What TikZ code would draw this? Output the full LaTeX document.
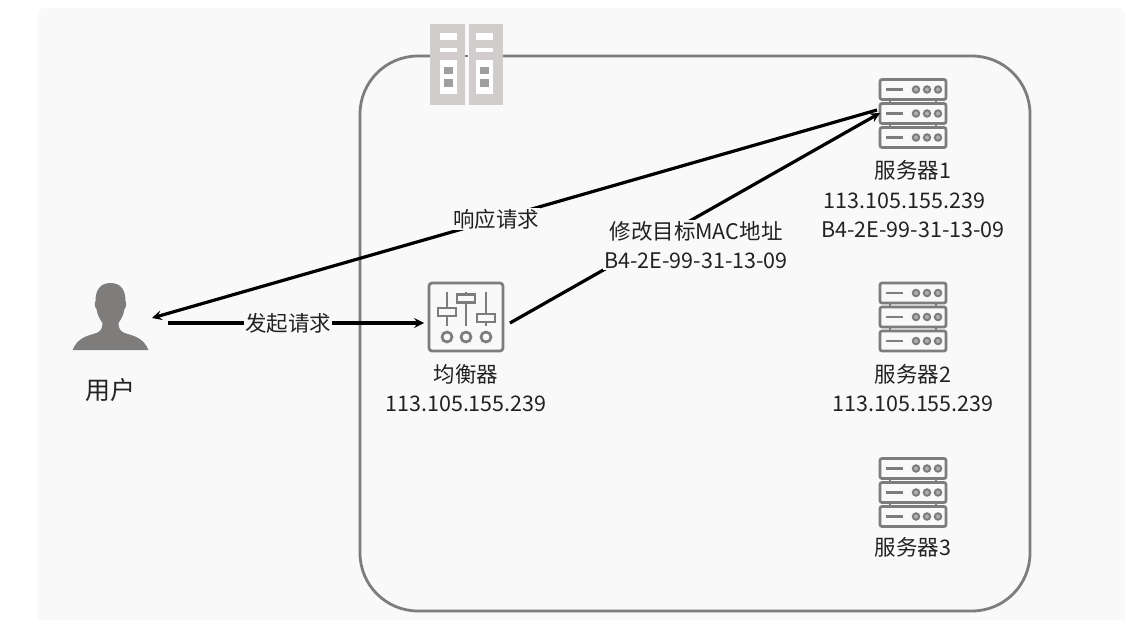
\documentclass[tikz,border=0pt]{standalone}
\usepackage{fontspec}
\setmainfont{Noto Sans CJK SC}
\usetikzlibrary{positioning}
\definecolor{panelbg}{HTML}{F9F9FA}
\definecolor{icongray}{HTML}{7F7C7C}
\definecolor{racklight}{HTML}{D1CDCD}
\definecolor{textgray}{HTML}{222222}
\tikzset{
    iconline/.style={draw=icongray, line width=2.7pt},
    iconbox/.style={minimum width=70pt, minimum height=70pt, inner sep=0pt},
    caption/.style={text=textgray, font=\fontsize{21.5}{29.5}\selectfont, align=center},
    flow/.style={draw=black, line width=3.2pt, >=stealth},
    flowlabel/.style={caption, fill=panelbg, inner sep=1pt},
    serverrow/.pic={
        \draw[iconline, fill=panelbg, rounded corners=2pt] (-33,-10) rectangle (33,10);
        \draw[iconline] (-27,0) -- (-10,0);
        \foreach \dotx in {3,14,25} {
            \draw[icongray, fill=icongray!60, line width=2pt] (\dotx,0) circle (3.2);
        }
    },
    servericon/.pic={
        \draw[iconline] (-23,-14) -- (-23,-10) (23,-14) -- (23,-10);
        \draw[iconline] (-23,10) -- (-23,14) (23,10) -- (23,14);
        \pic at (0,-24) {serverrow};
        \pic at (0,0) {serverrow};
        \pic at (0,24) {serverrow};
    },
    balancericon/.pic={
        \draw[iconline, rounded corners=3pt] (-37,-34) rectangle (37,34);
        \foreach \sx/\hy in {-19/-5,0/-18.5,20/1} {
            \draw[iconline] (\sx,-25) -- (\sx,9);
            \draw[iconline, fill=panelbg] (\sx-9,\hy-4) rectangle (\sx+9,\hy+4);
            \draw[iconline] (\sx,20) circle (5);
        }
    },
    usericon/.pic={
        \fill[icongray] (0,-34) .. controls (-11,-34) and (-15,-26) .. (-15,-16)
            .. controls (-16,-14) and (-16,-10) .. (-14,-8)
            .. controls (-13,-1) and (-10,3) .. (-8,6)
            .. controls (-8,12) and (-10,14) .. (-14,16)
            .. controls (-24,19) and (-33,21) .. (-38,33)
            -- (38,33)
            .. controls (33,21) and (24,19) .. (14,16)
            .. controls (10,14) and (8,12) .. (8,6)
            .. controls (10,3) and (13,-1) .. (14,-8)
            .. controls (16,-10) and (16,-14) .. (15,-16)
            .. controls (15,-26) and (11,-34) .. (0,-34) -- cycle;
    },
    rackicon/.pic={
        \fill[racklight] (-36.5,-40.5) rectangle (36.5,40.5);
        \fill[panelbg] (-2,-40.5) rectangle (2,40.5);
        \fill[icongray] (-1.5,-9.5) rectangle (1.5,-7.5);
        \foreach \cx in {-18,18} {
            \fill[white] (\cx-8.5,-31.5) rectangle (\cx+8.5,-24.5);
            \fill[white] (\cx-8.5,-16.5) rectangle (\cx+8.5,-12.5);
            \fill[white] (\cx-8.5,-4.5) rectangle (\cx+8.5,30);
            \fill[gray!75] (\cx-4.5,2.5) rectangle (\cx+4.5,9.5);
            \fill[gray!75] (\cx-4.5,14.5) rectangle (\cx+4.5,22.5);
        }
    }
}
\begin{document}
\begin{tikzpicture}[x=1pt, y=-1pt]
    \useasboundingbox (0,0) rectangle (1134,620);
    \fill[white] (0,0) rectangle (1134,620);
    \fill[panelbg, rounded corners=8pt] (38,8) rectangle (1125,640);
    \fill[white] (0,620) rectangle (1134,650);

    % cluster outline
    \node[draw=icongray, line width=2.8pt, rounded corners=58pt, minimum width=670pt, minimum height=555pt, inner sep=0pt] (cluster) at (695,333.5) {};
    \node[iconbox, minimum width=73pt, minimum height=81pt] (rack) at (466.5,64.5) {};
    \pic at (rack) {rackicon};

    % user
    \node[iconbox, minimum width=76pt] (user) at (110.5,317) {};
    \pic at (user) {usericon};
    \node[caption, font=\fontsize{25}{30}\selectfont] (userlabel) at (110.5,390) {用户};

    % balancer
    \node[iconbox, minimum width=76pt] (balancer) at (466,317) {};
    \pic at (balancer) {balancericon};
    \node[caption] (balancerlabel) at (466,388) {均衡器\\113.105.155.239};

    % servers
    \node[iconbox] (server1) at (913,113.5) {};
    \pic at (server1) {servericon};
    \node[caption] (server1label) at (913,199.5) {服务器1\\113.105.155.239\hspace{17pt}\mbox{}\\B4-2E-99-31-13-09};
    \node[iconbox] (server2) at (913,317) {};
    \pic at (server2) {servericon};
    \node[caption] (server2label) at (913,388) {服务器2\\113.105.155.239};
    \node[iconbox] (server3) at (913,492.5) {};
    \pic at (server3) {servericon};
    \node[caption] (server3label) at (913,547) {服务器3};

    % free ends of the connectors
    \coordinate (reqstart) at (168,323);
    \coordinate (reqend) at (424,323);
    \coordinate (respstart) at (877,110);
    \coordinate (respend) at (152,318);
    \coordinate (macstart) at (510,323);
    \coordinate (macend) at (880,113);

    \draw[flow, ->] (reqstart) -- node[flowlabel, pos=0.47] (reqlabel) {发起请求} (reqend);
    \draw[flow, ->] (respstart) -- node[flowlabel, pos=0.525] (resplabel) {响应请求} (respend);
    \draw[flow, ->] (macstart) -- (macend);
    \node[flowlabel] (maclabel) at (696,245) {修改目标MAC地址\\B4-2E-99-31-13-09};
\end{tikzpicture}
\end{document}
